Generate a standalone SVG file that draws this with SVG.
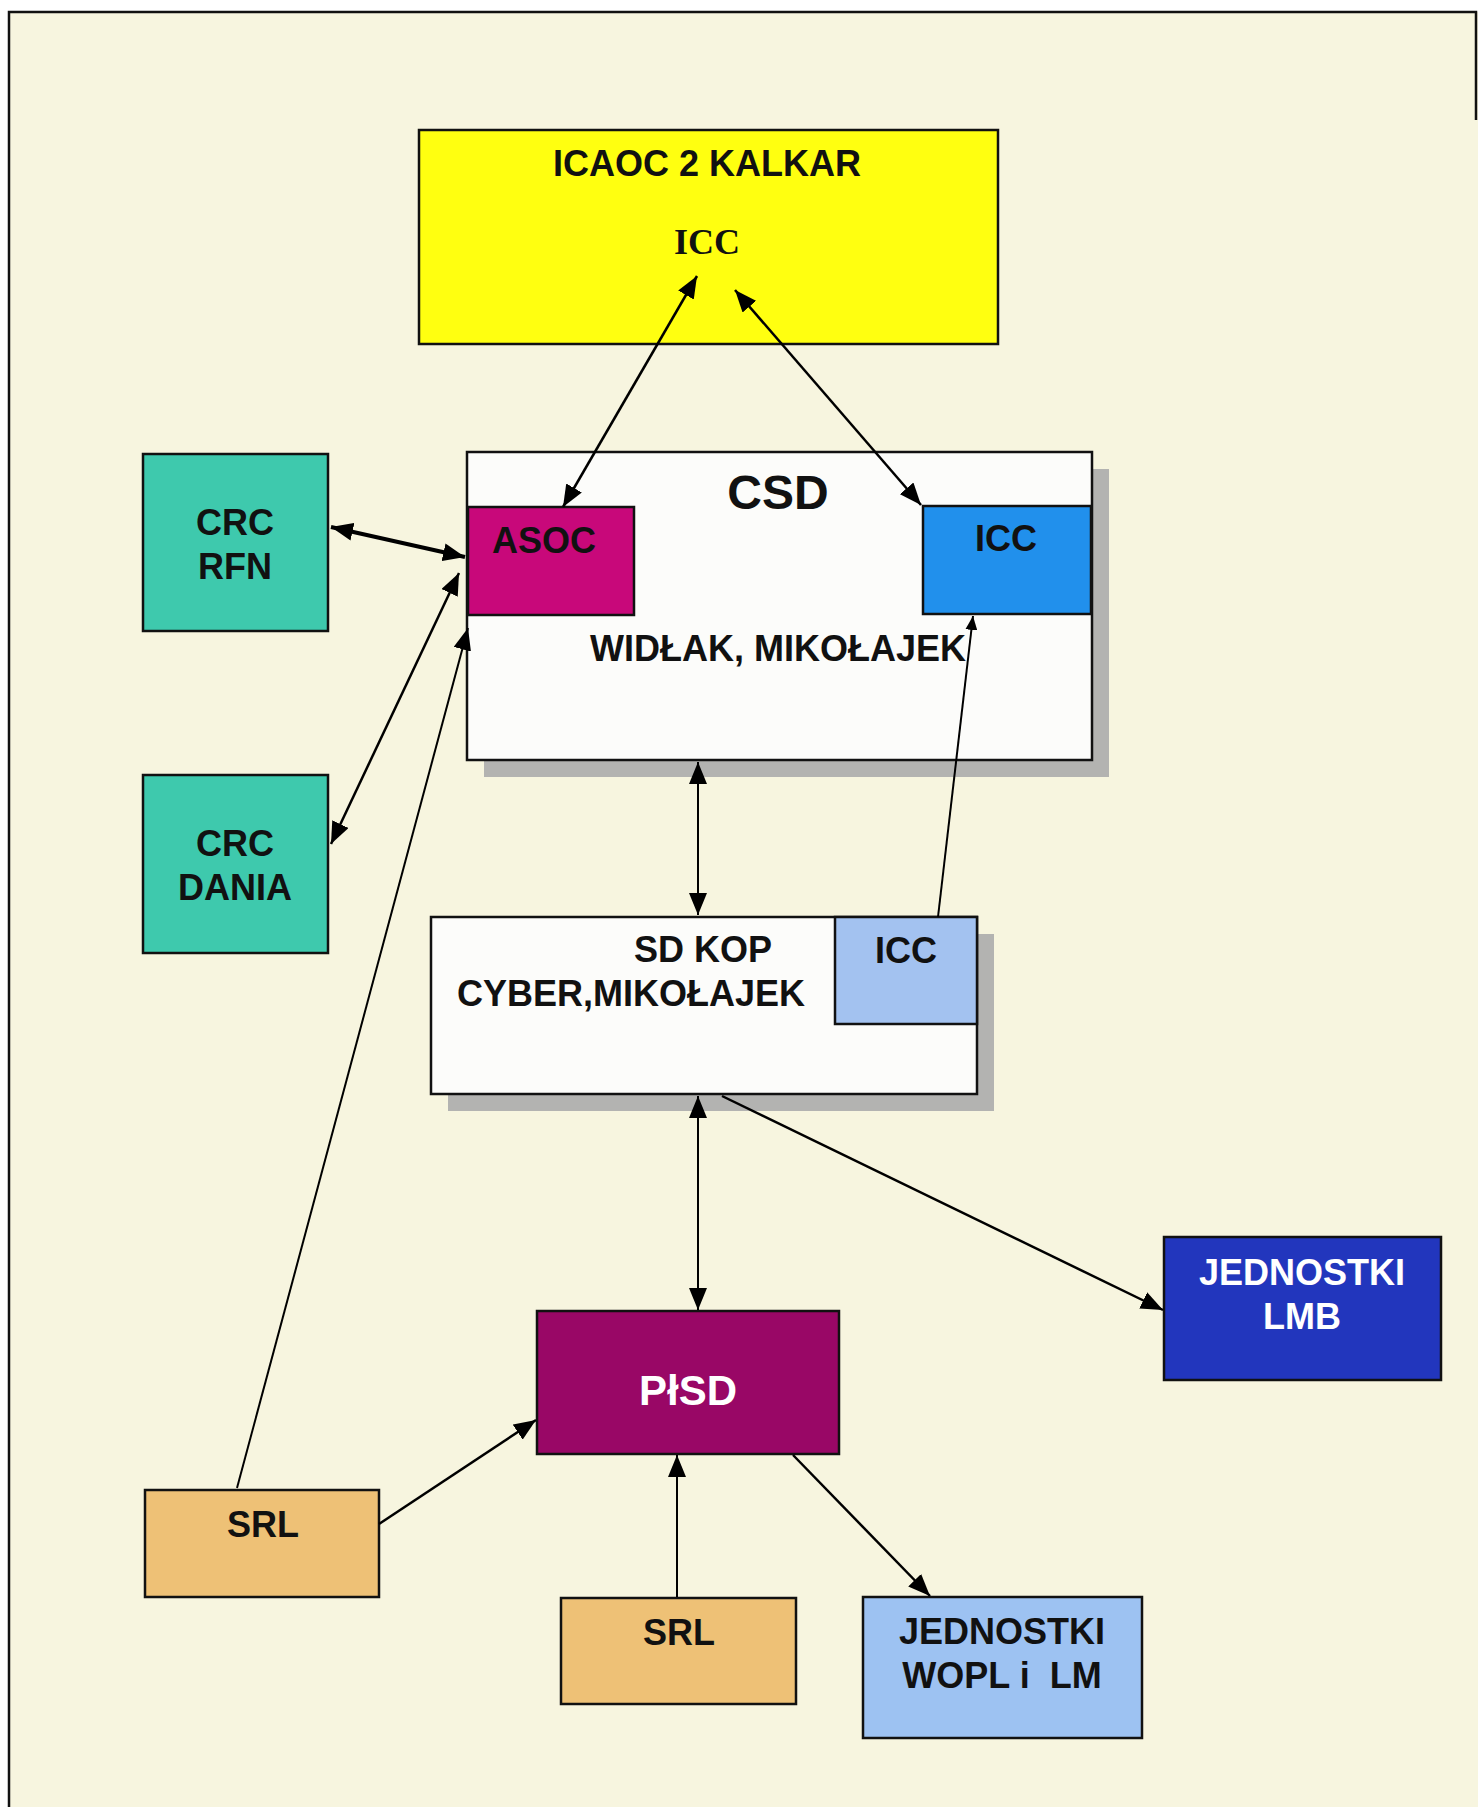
<svg xmlns="http://www.w3.org/2000/svg" width="1478" height="1807" viewBox="0 0 1478 1807">
  <style>
    .box { stroke: #111; stroke-width: 2.5; }
    .shadow { fill: #b3b3b1; }
    .lbl { font-family: "Liberation Sans", Arial, sans-serif; font-weight: bold; font-size: 36px; fill: #111; text-anchor: middle; }
    .wht { fill: #ffffff; }
    .ser { font-family: "Liberation Serif", "Times New Roman", serif; font-weight: bold; font-size: 36px; fill: #111; text-anchor: middle; }
    .ln { stroke: #000; fill: none; stroke-width: 2.5; }
    .thin { stroke-width: 2; }
    .thick { stroke-width: 4; }
  </style>
  <defs>
    <marker id="ah" viewBox="0 0 22 18" refX="22" refY="9" markerWidth="22" markerHeight="18" markerUnits="userSpaceOnUse" orient="auto-start-reverse">
      <path d="M0,0 L22,9 L0,18 z" fill="#000"/>
    </marker>
    <marker id="ahs" viewBox="0 0 14 12" refX="14" refY="6" markerWidth="14" markerHeight="12" markerUnits="userSpaceOnUse" orient="auto-start-reverse">
      <path d="M0,0 L14,6 L0,12 z" fill="#000"/>
    </marker>
  </defs>

  <!-- page and frame -->
  <rect x="0" y="0" width="1478" height="1807" fill="#ffffff"/>
  <rect x="9" y="12" width="1469" height="1795" fill="#f7f5df"/>
  <path d="M9,1807 L9,12 L1476,12 L1476,120" fill="none" stroke="#111" stroke-width="2.5"/>

  <!-- ICAOC 2 KALKAR -->
  <g id="icaoc">
    <rect class="box" x="419" y="130" width="579" height="214" fill="#ffff10"/>
    <text class="lbl" x="707" y="176">ICAOC 2 KALKAR</text>
    <text class="ser" x="707" y="254">ICC</text>
  </g>

  <!-- CSD -->
  <g id="csd">
    <rect class="shadow" x="484" y="469" width="625" height="308"/>
    <rect class="box" x="467" y="452" width="625" height="308" fill="#fcfcfa"/>
    <text class="lbl" x="778" y="509" style="font-size:48px">CSD</text>
    <text class="lbl" x="778" y="661">WIDŁAK, MIKOŁAJEK</text>
  </g>
  <g id="asoc">
    <rect class="box" x="468" y="507" width="166" height="108" fill="#c8087a"/>
    <text class="lbl" x="544" y="553">ASOC</text>
  </g>
  <g id="csd-icc">
    <rect class="box" x="923" y="506" width="168" height="108" fill="#2190ec"/>
    <text class="lbl" x="1006" y="551">ICC</text>
  </g>

  <!-- CRC RFN -->
  <g id="crc-rfn">
    <rect class="box" x="143" y="454" width="185" height="177" fill="#3ec9ad"/>
    <text class="lbl" x="235" y="535">CRC</text>
    <text class="lbl" x="235" y="579">RFN</text>
  </g>

  <!-- CRC DANIA -->
  <g id="crc-dania">
    <rect class="box" x="143" y="775" width="185" height="178" fill="#3ec9ad"/>
    <text class="lbl" x="235" y="856">CRC</text>
    <text class="lbl" x="235" y="900">DANIA</text>
  </g>

  <!-- SD KOP -->
  <g id="sdkop">
    <rect class="shadow" x="448" y="934" width="546" height="177"/>
    <rect class="box" x="431" y="917" width="546" height="177" fill="#fcfcfa"/>
    <text class="lbl" x="703" y="962">SD KOP</text>
    <text class="lbl" x="631" y="1006">CYBER,MIKOŁAJEK</text>
  </g>
  <g id="sdkop-icc">
    <rect class="box" x="835" y="917" width="142" height="107" fill="#a3c2f0"/>
    <text class="lbl" x="906" y="963">ICC</text>
  </g>

  <!-- JEDNOSTKI LMB -->
  <g id="lmb">
    <rect class="box" x="1164" y="1237" width="277" height="143" fill="#2236bd"/>
    <text class="lbl wht" x="1302" y="1285">JEDNOSTKI</text>
    <text class="lbl wht" x="1302" y="1329">LMB</text>
  </g>

  <!-- PłSD -->
  <g id="plsd">
    <rect class="box" x="537" y="1311" width="302" height="143" fill="#990766"/>
    <text class="lbl wht" x="688" y="1405" style="font-size:42px">PłSD</text>
  </g>

  <!-- SRL (left) -->
  <g id="srl-1">
    <rect class="box" x="145" y="1490" width="234" height="107" fill="#eec176"/>
    <text class="lbl" x="263" y="1537">SRL</text>
  </g>

  <!-- SRL (bottom) -->
  <g id="srl-2">
    <rect class="box" x="561" y="1598" width="235" height="106" fill="#eec176"/>
    <text class="lbl" x="679" y="1645">SRL</text>
  </g>

  <!-- JEDNOSTKI WOPL i LM -->
  <g id="wopl">
    <rect class="box" x="863" y="1597" width="279" height="141" fill="#9dc2f2"/>
    <text class="lbl" x="1002" y="1644">JEDNOSTKI</text>
    <text class="lbl" x="1002" y="1688" xml:space="preserve">WOPL i  LM</text>
  </g>

  <!-- connectors -->
  <g id="connectors">
    <line class="ln" x1="697" y1="276" x2="563" y2="507" marker-start="url(#ah)" marker-end="url(#ah)"/>
    <line class="ln" x1="735" y1="290" x2="921" y2="505" marker-start="url(#ah)" marker-end="url(#ah)"/>
    <line class="ln thick" x1="331" y1="527" x2="465" y2="557" marker-start="url(#ah)" marker-end="url(#ah)"/>
    <line class="ln" x1="331" y1="844" x2="459" y2="573" marker-start="url(#ah)" marker-end="url(#ah)"/>
    <line class="ln thin" x1="237" y1="1488" x2="468" y2="628" marker-end="url(#ah)"/>
    <line class="ln thin" x1="698" y1="762" x2="698" y2="915" marker-start="url(#ah)" marker-end="url(#ah)"/>
    <line class="ln thin" x1="938" y1="917" x2="973" y2="616" marker-end="url(#ahs)"/>
    <line class="ln thin" x1="698" y1="1096" x2="698" y2="1310" marker-start="url(#ah)" marker-end="url(#ah)"/>
    <line class="ln" x1="722" y1="1096" x2="1163" y2="1310" marker-end="url(#ah)"/>
    <line class="ln" x1="379" y1="1524" x2="536" y2="1420" marker-end="url(#ah)"/>
    <line class="ln thin" x1="677" y1="1597" x2="677" y2="1455" marker-end="url(#ah)"/>
    <line class="ln" x1="793" y1="1455" x2="930" y2="1596" marker-end="url(#ah)"/>
  </g>
</svg>
